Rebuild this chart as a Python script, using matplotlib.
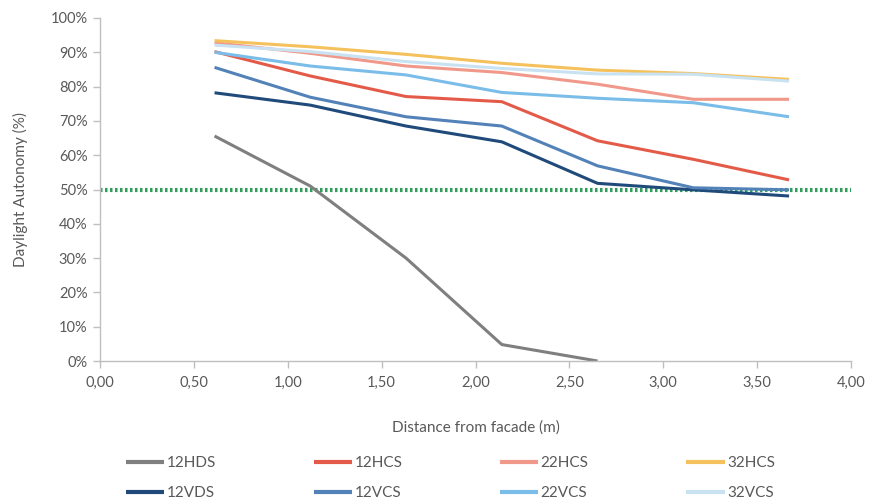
import matplotlib
matplotlib.use("Agg")
import matplotlib.pyplot as plt
from matplotlib.ticker import FuncFormatter, MultipleLocator

plt.rcParams['font.family'] = ['Lato', 'DejaVu Sans']

distance = [0.61, 1.12, 1.63, 2.14, 2.65, 3.16, 3.67]
series_names = ["12HDS", "12HCS", "22HCS", "32HCS", "12VDS", "12VCS", "22VCS", "32VCS"]
s_12HDS = [65.6, 51.0, 30.0, 4.8, 0.0]
s_12HCS = [90.2, 83.1, 77.1, 75.6, 64.2, 58.8, 52.8]
s_22HCS = [92.8, 89.7, 86.0, 84.1, 80.7, 76.3, 76.3]
s_32HCS = [93.4, 91.6, 89.4, 86.8, 84.8, 83.8, 82.1]
s_12VDS = [78.2, 74.6, 68.5, 63.9, 51.8, 49.9, 48.1]
s_12VCS = [85.6, 76.9, 71.2, 68.5, 56.9, 50.5, 49.9]
s_22VCS = [90.0, 86.0, 83.4, 78.3, 76.6, 75.3, 71.2]
s_32VCS = [92.1, 90.2, 87.3, 85.3, 83.7, 83.6, 81.6]
threshold_x = [0.0, 4.0]
threshold_y = [50, 50]

colors = ["#7f7f7f", "#e35b48", "#f0998a", "#f5c15c",
          "#1f4a7a", "#5282b8", "#7bbde9", "#c8e2f2"]
values = [s_12HDS, s_12HCS, s_22HCS, s_32HCS, s_12VDS, s_12VCS, s_22VCS, s_32VCS]

fig = plt.figure(figsize=(8.75, 5.04), dpi=100)
ax = fig.add_axes([0.1143, 0.2837, 0.8583, 0.6806])

txt = "#595959"
axc = "#bfbfbf"

ax.plot(threshold_x, threshold_y, color="#2e9e5b", lw=3, ls=(0, (0.6, 0.6)), zorder=1)
handles = []
for name, vals, c in zip(series_names, values, colors):
    h, = ax.plot(distance[:len(vals)], vals, color=c, lw=2.2, label=name,
                 solid_capstyle='butt', zorder=2)
    handles.append(h)

ax.set_xlim(0, 4)
ax.set_ylim(0, 100)
ax.xaxis.set_major_locator(MultipleLocator(0.5))
ax.yaxis.set_major_locator(MultipleLocator(10))
ax.xaxis.set_major_formatter(FuncFormatter(lambda v, p: f"{v:.2f}".replace(".", ",")))
ax.yaxis.set_major_formatter(FuncFormatter(lambda v, p: f"{int(round(v))}%"))

for sp in ["top", "right"]:
    ax.spines[sp].set_visible(False)
for sp in ["left", "bottom"]:
    ax.spines[sp].set_color(axc)
    ax.spines[sp].set_linewidth(1)
ax.tick_params(axis='both', colors=axc, labelcolor=txt, labelsize=10.5, length=5, width=1)
ax.tick_params(axis='x', pad=6)
ax.tick_params(axis='y', pad=4)

ax.set_xlabel("Distance from facade (m)", color=txt, fontsize=11, labelpad=22)
ax.set_ylabel("Daylight Autonomy (%)", color=txt, fontsize=11, labelpad=16)

# legend, order by rows: row1 = first four, row2 = last four
order = [0, 4, 1, 5, 2, 6, 3, 7]
leg = fig.legend([handles[i] for i in order], [series_names[i] for i in order],
                 loc="lower center", bbox_to_anchor=(0.515, -0.02), ncol=4,
                 frameon=False, fontsize=11, handlelength=2.5, handletextpad=0.15,
                 columnspacing=6.4, labelspacing=1.05)
for t in leg.get_texts():
    t.set_color(txt)
for l in leg.get_lines():
    l.set_linewidth(3)

fig.savefig("out.png", dpi=100)
